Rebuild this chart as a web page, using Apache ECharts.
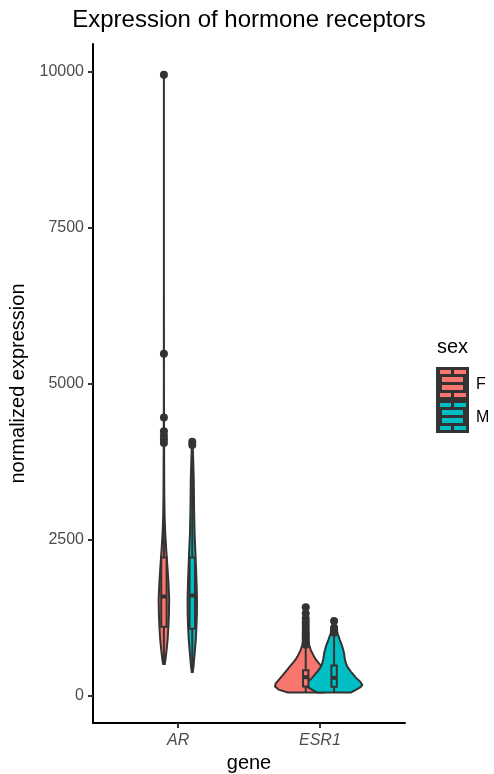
<!DOCTYPE html>
<html>
<head>
<meta charset="utf-8">
<script src="https://cdn.jsdelivr.net/npm/echarts@6/dist/echarts.min.js"></script>
<style>
html, body { margin: 0; padding: 0; background: #fff; }
#chart { width: 494px; height: 774px; }
</style>
</head>
<body>
<div id="chart"></div>
<script>
var genes = ['AR', 'ESR1'];
var sexes = ['F', 'M'];
var sexColors = ['#F8766D', '#00BFC4'];
var yTicks = [0, 2500, 5000, 7500, 10000];

// violin outlines: [expression, relative density]
var arFViolin = [[510, 0.026], [577, 0.048], [737, 0.087], [900, 0.119], [1111, 0.145], [1300, 0.161],
    [1539, 0.171], [1800, 0.148], [2073, 0.113], [2350, 0.074], [2612, 0.042], [2874, 0.023],
    [3200, 0.013], [3600, 0.008], [4000, 0.0065], [4500, 0.004], [5000, 0.0016], [5500, 0.002],
    [6500, 0.0003], [9950, 0.0003]];
var arMViolin = [[385, 0.016], [470, 0.039], [737, 0.087], [900, 0.113], [1111, 0.135], [1300, 0.148],
    [1539, 0.152], [1800, 0.139], [2073, 0.119], [2350, 0.097], [2612, 0.074], [3000, 0.058],
    [3462, 0.048], [3800, 0.029], [3996, 0.016], [4080, 0.006]];
var esr1FViolin = [[55, 0.58], [100, 0.87], [150, 0.99], [200, 0.97], [256, 0.87], [320, 0.76],
    [390, 0.645], [460, 0.53], [524, 0.42], [580, 0.33], [630, 0.27], [737, 0.16], [820, 0.11],
    [898, 0.074], [1000, 0.048], [1100, 0.032], [1250, 0.023], [1420, 0.013]];
var esr1MViolin = [[55, 0.55], [96, 0.70], [140, 0.85], [176, 0.91], [230, 0.84], [289, 0.71],
    [390, 0.54], [460, 0.435], [529, 0.377], [600, 0.345], [690, 0.32], [800, 0.26], [898, 0.184],
    [1000, 0.113], [1100, 0.071], [1195, 0.016]];

// box stats: [lower whisker, q1, median, q3, upper whisker]
var arFBox = [510, 1106, 1592, 2217, 3860];
var arMBox = [385, 1074, 1608, 2217, 3900];
var esr1FBox = [55, 150, 300, 410, 790];
var esr1MBox = [55, 145, 290, 486, 990];

var arFOutliers = [4050, 4110, 4170, 4240, 4460, 5480, 9950];
var arMOutliers = [4020, 4070];
var esr1FOutliers = [820, 860, 900, 940, 980, 1020, 1070, 1120, 1180, 1240, 1320, 1420];
var esr1MOutliers = [1010, 1050, 1090, 1200];

var violins = [[arFViolin, arMViolin], [esr1FViolin, esr1MViolin]];
var boxes = [[arFBox, arMBox], [esr1FBox, esr1MBox]];
var outliers = [[arFOutliers, arMOutliers], [esr1FOutliers, esr1MOutliers]];

var DODGE = 0.1;
var VIOLIN_SCALE = 0.2186;
var BOX_HALF = 0.019;
var FONT = '"Liberation Sans", Arial, sans-serif';

var violinItems = [], boxItems = [], pointItems = [];
genes.forEach(function (g, gi) {
    sexes.forEach(function (s, si) {
        var x = gi + 1 + (si === 0 ? -DODGE : DODGE);
        violinItems.push([x, gi, si]);
        boxItems.push([x].concat(boxes[gi][si]).concat([si]));
        outliers[gi][si].forEach(function (v) {
            pointItems.push([x, v]);
        });
    });
});

function renderViolin(params, api) {
    var x = api.value(0), gi = api.value(1), si = api.value(2);
    var right = [], left = [];
    violins[gi][si].forEach(function (d) {
        right.push(api.coord([x + d[1] * VIOLIN_SCALE, d[0]]));
        left.unshift(api.coord([x - d[1] * VIOLIN_SCALE, d[0]]));
    });
    return {
        type: 'polygon',
        shape: { points: right.concat(left) },
        style: { fill: sexColors[si], stroke: '#333333', lineWidth: 2 }
    };
}

function renderBox(params, api) {
    var x = api.value(0), si = api.value(6);
    var lo = api.coord([x, api.value(1)]);
    var q1 = api.coord([x, api.value(2)]);
    var med = api.coord([x, api.value(3)]);
    var q3 = api.coord([x, api.value(4)]);
    var hi = api.coord([x, api.value(5)]);
    var l = api.coord([x - BOX_HALF, 0])[0];
    var r = api.coord([x + BOX_HALF, 0])[0];
    var line = { stroke: '#333333', lineWidth: 2 };
    return {
        type: 'group',
        children: [
            { type: 'line', shape: { x1: lo[0], y1: lo[1], x2: q1[0], y2: q1[1] }, style: line },
            { type: 'line', shape: { x1: q3[0], y1: q3[1], x2: hi[0], y2: hi[1] }, style: line },
            { type: 'rect', shape: { x: l, y: q3[1], width: r - l, height: q1[1] - q3[1] },
              style: { fill: sexColors[si], stroke: '#333333', lineWidth: 2 } },
            { type: 'line', shape: { x1: l, y1: med[1], x2: r, y2: med[1] },
              style: { stroke: '#333333', lineWidth: 4 } }
        ]
    };
}

// legend key glyphs
function legendKey(top, color) {
    return [
        { type: 'rect', shape: { x: 436, y: top, width: 33, height: 33 }, style: { fill: '#333333' } },
        { type: 'rect', shape: { x: 440, y: top + 3, width: 11, height: 4 }, style: { fill: color } },
        { type: 'rect', shape: { x: 454, y: top + 3, width: 12, height: 4 }, style: { fill: color } },
        { type: 'rect', shape: { x: 442, y: top + 10, width: 21, height: 5 }, style: { fill: color } },
        { type: 'rect', shape: { x: 442, y: top + 18, width: 21, height: 5 }, style: { fill: color } },
        { type: 'rect', shape: { x: 440, y: top + 26, width: 11, height: 4 }, style: { fill: color } },
        { type: 'rect', shape: { x: 454, y: top + 26, width: 12, height: 4 }, style: { fill: color } }
    ];
}

var legendGraphics = [
    { type: 'text', x: 437, y: 347, style: { text: 'sex', font: '20px ' + FONT, fill: '#000', verticalAlign: 'middle' } }
].concat(legendKey(367, sexColors[0]), legendKey(400, sexColors[1]), [
    { type: 'text', x: 476, y: 385, style: { text: sexes[0], font: '16px ' + FONT, fill: '#000', verticalAlign: 'middle' } },
    { type: 'text', x: 476, y: 418, style: { text: sexes[1], font: '16px ' + FONT, fill: '#000', verticalAlign: 'middle' } },
    { type: 'text', x: 249, y: 20, style: { text: 'Expression of hormone receptors', font: '24px ' + FONT,
        fill: '#000', align: 'center', verticalAlign: 'middle' } }
]);

var chart = echarts.init(document.getElementById('chart'));
chart.setOption({
    animation: false,
    grid: { left: 93, right: 89, top: 44, bottom: 51, containLabel: false, outerBoundsMode: 'none' },
    xAxis: {
        type: 'value',
        min: 0.4,
        max: 2.6,
        name: 'gene',
        nameLocation: 'middle',
        nameGap: 30,
        nameTextStyle: { fontSize: 20, color: '#000', fontFamily: FONT },
        splitLine: { show: false },
        axisLine: { onZero: false, lineStyle: { color: '#000', width: 2 } },
        axisTick: { customValues: [1, 2], length: 5, lineStyle: { color: '#333', width: 2 } },
        axisLabel: {
            customValues: [1, 2],
            margin: 10,
            fontSize: 16,
            fontStyle: 'italic',
            color: '#4d4d4d',
            fontFamily: FONT,
            formatter: function (v) { return genes[Math.round(v) - 1]; }
        }
    },
    yAxis: {
        type: 'value',
        min: -434,
        max: 10444,
        name: 'normalized expression',
        nameLocation: 'middle',
        nameGap: 59,
        nameTextStyle: { fontSize: 20, color: '#000', fontFamily: FONT },
        splitLine: { show: false },
        axisLine: { show: true, onZero: false, lineStyle: { color: '#000', width: 2 } },
        axisTick: { show: true, customValues: yTicks, length: 5, lineStyle: { color: '#333', width: 2 } },
        axisLabel: {
            customValues: yTicks,
            margin: 9,
            fontSize: 16,
            color: '#4d4d4d',
            fontFamily: FONT,
            formatter: function (v) { return String(v); }
        }
    },
    graphic: legendGraphics,
    series: [
        {
            type: 'custom',
            renderItem: renderViolin,
            data: violinItems,
            encode: { x: 0, y: 1 },
            z: 2
        },
        {
            type: 'custom',
            renderItem: renderBox,
            data: boxItems,
            encode: { x: 0, y: [1, 2, 3, 4, 5] },
            z: 3
        },
        {
            type: 'scatter',
            data: pointItems,
            symbolSize: 8,
            itemStyle: { color: '#333333', opacity: 1 },
            z: 4
        }
    ]
});
</script>
</body>
</html>
